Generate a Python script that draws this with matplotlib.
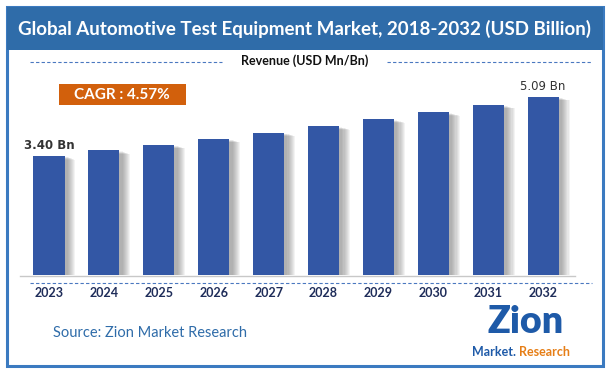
import numpy as np
import matplotlib
matplotlib.use("Agg")
import matplotlib.pyplot as plt
from matplotlib.patches import Rectangle

# data
years = ["2023", "2024", "2025", "2026", "2027", "2028", "2029", "2030", "2031", "2032"]
revenue = [3.40, 3.56, 3.72, 3.89, 4.07, 4.25, 4.45, 4.65, 4.86, 5.09]
first_label = "3.40 Bn"
last_label = "5.09 Bn"
cagr_text = "CAGR : 4.57%"
title = "Global Automotive Test Equipment Market, 2018-2032 (USD Billion)"

W, H = 609, 377
fig = plt.figure(figsize=(W / 100, H / 100), dpi=100)
fig.patch.set_facecolor("white")

# overlay axes in pixel coords (y down)
bg = fig.add_axes([0, 0, 1, 1])
bg.set_xlim(0, W)
bg.set_ylim(H, 0)
bg.axis("off")

blue = "#2F6CA9"
bg.add_patch(Rectangle((7, 7), 596, 359, fill=False, edgecolor="#3B7AC0", lw=2.2))
bg.add_patch(Rectangle((7, 7), 596, 43, facecolor=blue, edgecolor="none"))
bg.text(305, 29, title, color="white", fontsize=13.5, fontweight="bold",
        family="Lato", ha="center", va="center")

bg.text(305, 61, "Revenue (USD Mn/Bn)", fontsize=9, fontweight="bold",
        family="Lato", ha="center", va="center", color="#111111")
bg.plot([30, 222], [62, 62], ls=(0, (3, 2)), color="#4A78C0", lw=0.8)
bg.plot([387, 592], [62, 62], ls=(0, (3, 2)), color="#4A78C0", lw=0.8)

bg.add_patch(Rectangle((59, 84), 127, 21, facecolor="#D2600C", edgecolor="none"))
bg.text(122, 95, cagr_text, color="white", fontsize=11, fontweight="bold",
        family="Lato", ha="center", va="center")

bg.plot([20, 575], [276, 276], color="#C8C8C8", lw=1)
bg.plot([30, 592], [283, 283], ls=(0, (3, 2)), color="#4A78C0", lw=0.8)

bg.text(53, 333, "Source: Zion Market Research", color="#2F6CA9", fontsize=10.5,
        family="Lato", ha="left", va="center")

# logo approximation
bg.text(526, 322, "Zion", color="#1E5AA8", fontsize=27, fontweight="heavy",
        family="Lato", ha="center", va="center")
bg.text(494, 352, "Market.", color="#1E5AA8", fontsize=9, fontweight="bold",
        family="Lato", ha="center", va="center")
bg.text(545, 352, "Research", color="#E67E16", fontsize=9, fontweight="bold",
        family="Lato", ha="center", va="center")

# bar axes
ax = fig.add_axes([20 / W, (H - 275) / H, 555 / W, 195 / H])
ax.set_xlim(-0.528, 9.58)
ax.set_ylim(0, 195 / 35)
ax.axis("off")
ax.patch.set_alpha(0)
x = np.arange(len(years))
wbar = 0.565
# soft shadow on the right
for k in range(8):
    ax.bar(x + 0.06 + k * 0.02, np.array(revenue) - 0.03 - k * 0.01, width=wbar,
           color="#555555", alpha=0.07, zorder=1)
ax.bar(x, revenue, width=wbar, color="#3357A5", zorder=3)

ax.text(x[0], revenue[0] + 0.3, first_label, ha="center", va="center",
        fontsize=8.5, fontweight="bold", color="#333333", family="DejaVu Sans")
ax.text(x[-1], revenue[-1] + 0.3, last_label, ha="center", va="center",
        fontsize=8.5, color="#333333", family="DejaVu Sans")

for xi, yr in zip(x, years):
    px = 20 + (xi + 0.528) * 555 / (9.58 + 0.528)
    bg.text(px, 293, yr, ha="center", va="center", fontsize=9, fontweight="bold",
            color="#1F2D5A", family="Lato")

fig.savefig("out.png", dpi=100)
